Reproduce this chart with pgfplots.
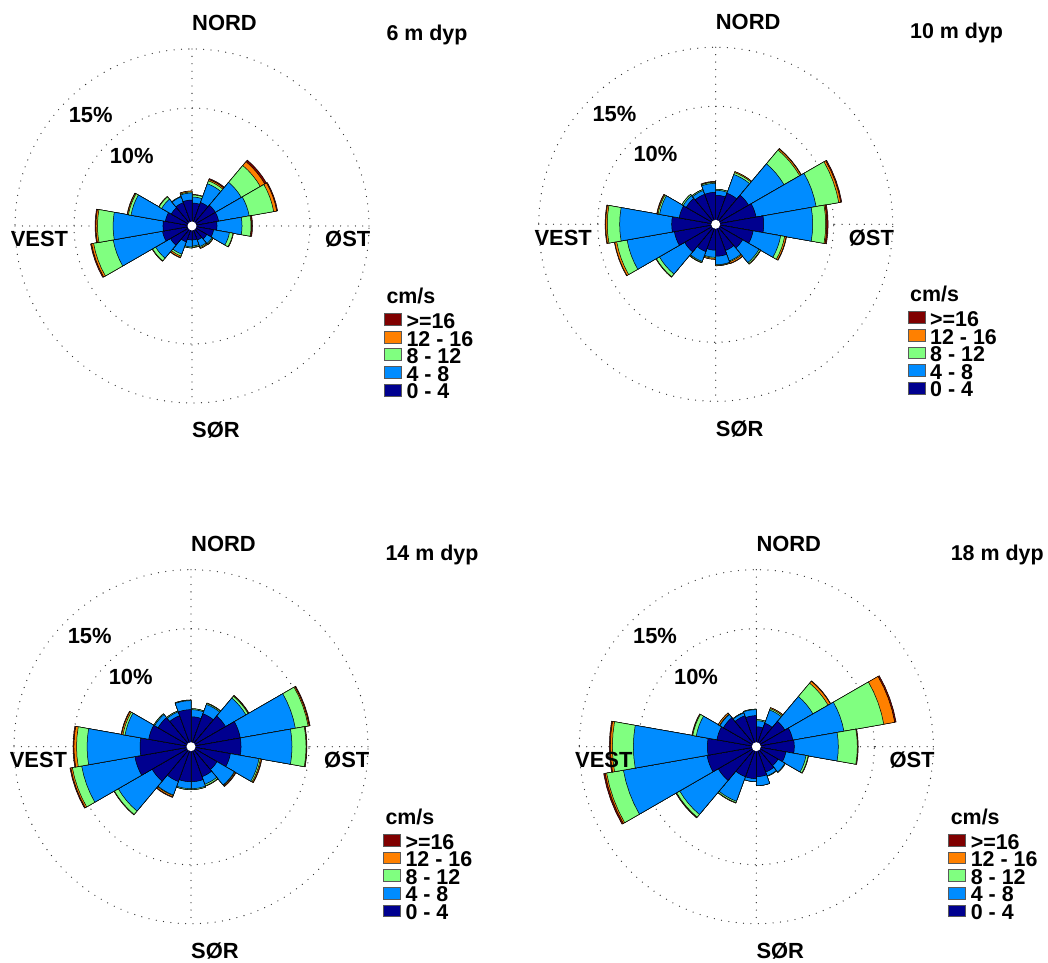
\documentclass[border=0pt]{standalone}
\usepackage{pgfplots}
\pgfplotsset{compat=1.18}
\usepackage{pgfplotstable}
\usepackage{fontspec}
\setmainfont{Liberation Sans}

\definecolor{col1}{RGB}{0,0,143}
\definecolor{col2}{RGB}{0,140,255}
\definecolor{col3}{RGB}{128,255,128}
\definecolor{col4}{RGB}{255,128,0}
\definecolor{col5}{RGB}{128,0,0}

% cumulative percentage (outer edge of each speed class) per 20-degree sector
% dir = compass start of the sector; c1: 0-4, c2: 4-8, c3: 8-12, c4: 12-16, c5: >=16 cm/s
\pgfplotstableread{
dir c1 c2 c3 c4 c5
0 1.95 2.46 2.63 2.67 2.67
20 2.12 3.81 4.07 4.19 4.28
40 2.29 4.83 6.69 7.12 7.29
60 2.29 4.92 7.03 7.29 7.37
80 2.12 4.24 5.00 5.04 5.13
100 1.86 3.22 3.52 3.56 3.56
120 1.44 1.95 2.03 2.08 2.08
140 1.27 1.86 1.95 2.03 2.03
160 1.19 1.69 1.78 1.82 1.82
180 1.19 1.78 1.86 1.86 1.86
200 1.44 2.54 2.71 2.84 2.88
220 2.12 3.56 3.86 3.90 3.90
240 2.54 6.78 8.47 8.64 8.73
260 2.46 6.69 8.01 8.14 8.22
280 2.29 5.25 5.47 5.55 5.59
300 2.03 2.97 3.22 3.26 3.26
320 2.12 2.63 2.67 2.67 2.67
340 2.20 2.80 2.88 2.97 2.97
}\roseA

\pgfplotstableread{
dir c1 c2 c3 c4 c5
0 2.46 2.88 2.97 2.97 2.97
20 2.80 4.49 4.66 4.75 4.75
40 3.22 6.69 8.22 8.35 8.39
60 3.47 8.64 10.59 10.76 10.85
80 4.07 8.22 9.32 9.41 9.53
100 3.22 5.59 5.93 6.06 6.10
120 2.63 4.24 4.36 4.41 4.41
140 2.37 3.31 3.39 3.52 3.56
160 2.71 3.43 3.47 3.52 3.52
180 2.20 2.80 2.88 2.97 2.97
200 2.46 3.35 3.43 3.47 3.47
220 3.05 5.51 5.81 5.85 5.85
240 3.56 7.63 8.52 8.69 8.73
260 3.73 8.14 9.19 9.32 9.38
280 3.14 4.83 4.96 5.04 5.08
300 2.88 3.18 3.31 3.31 3.31
320 2.71 3.05 3.14 3.14 3.14
340 2.71 3.47 3.56 3.60 3.64
}\roseB

\pgfplotstableread{
dir c1 c2 c3 c4 c5
0 2.54 3.14 3.22 3.22 3.22
20 2.97 3.81 3.90 3.94 3.94
40 3.39 5.38 5.59 5.64 5.68
60 4.24 8.98 10.08 10.17 10.25
80 4.24 8.56 9.75 9.79 9.83
100 3.39 5.85 5.97 6.06 6.10
120 2.54 4.24 4.28 4.36 4.41
140 2.71 3.39 3.52 3.56 3.56
160 2.97 3.56 3.64 3.64 3.64
180 2.97 3.56 3.64 3.64 3.64
200 3.14 4.36 4.41 4.53 4.58
220 3.81 7.12 7.50 7.54 7.54
240 4.83 9.41 10.21 10.34 10.42
260 4.32 8.81 9.70 9.92 10.00
280 3.64 5.68 5.85 5.97 6.02
300 3.22 3.56 3.64 3.64 3.64
320 2.80 3.14 3.22 3.22 3.22
340 3.14 3.90 3.94 3.96 3.96
}\roseC

\pgfplotstableread{
dir c1 c2 c3 c4 c5
0 1.69 2.20 2.29 2.29 2.29
20 2.12 3.31 3.43 3.52 3.52
40 2.80 5.55 7.03 7.25 7.29
60 3.14 7.54 10.97 11.91 12.03
80 3.22 6.95 8.56 8.60 8.64
100 2.54 4.28 4.45 4.49 4.49
120 2.12 2.80 2.84 2.84 2.84
140 2.29 2.63 2.67 2.67 2.67
160 2.54 3.31 3.31 3.31 3.31
180 2.71 2.97 2.97 2.97 2.97
200 2.71 4.92 5.04 5.08 5.08
220 3.73 7.50 7.80 7.84 7.88
240 4.24 11.44 12.88 13.01 13.14
260 4.15 10.42 12.20 12.37 12.46
280 3.39 5.17 5.47 5.51 5.55
300 3.22 3.56 3.60 3.73 3.73
320 2.80 3.05 3.09 3.09 3.09
340 2.63 3.14 3.18 3.18 3.18
}\roseD

\pgfplotsset{
  rose/.style={anchor=center, scale only axis, width=401.2bp, height=401.2bp,
    xmin=-17, xmax=17, ymin=-17, ymax=17, hide axis, clip=false},
  wedge/.style={draw=black, line width=0.5bp, line join=round, data cs=polar, mark=none},
}
\tikzset{
  lab/.style={font=\fontsize{22}{26}\selectfont\bfseries, inner sep=0pt},
  ttl/.style={font=\fontsize{21.5}{25}\selectfont\bfseries, inner sep=0pt},
  griddot/.style={line width=1.3bp, dash pattern=on 0pt off 7.4bp, line cap=round, black!80},
  legb/.style={draw=black!65, line width=0.9bp},
}

\newcommand\onewedge[3]{%
  \pgfplotstablegetelem{#2}{dir}\of{#1}\edef\wdir{\pgfplotsretval}%
  \pgfplotstablegetelem{#2}{c#3}\of{#1}\edef\wrad{\pgfplotsretval}%
  \pgfmathsetmacro\aA{90-\wdir}%
  \pgfmathsetmacro\aB{85-\wdir}%
  \pgfmathsetmacro\aC{80-\wdir}%
  \pgfmathsetmacro\aD{75-\wdir}%
  \pgfmathsetmacro\aE{70-\wdir}%
  \edef\temp{\noexpand\addplot[wedge,fill=col#3] coordinates {(0,0) (\aA,\wrad) (\aB,\wrad) (\aC,\wrad) (\aD,\wrad) (\aE,\wrad) (0,0)};}%
  \temp}
\newcommand\drawrose[1]{%
  \foreach \rw in {0,...,17}{%
    \foreach \cls in {5,4,3,2,1}{\onewedge{#1}{\rw}{\cls}}}}

\newcommand\rosegrid{%
  \draw[griddot] (axis cs:0,0) circle[radius=118bp];
  \draw[griddot] (axis cs:0,0) circle[radius=177bp];
  \draw[griddot] ([yshift=177bp]axis cs:0,0) -- ([yshift=-177bp]axis cs:0,0);
  \draw[griddot] ([xshift=-177bp]axis cs:0,0) -- ([xshift=177bp]axis cs:0,0);
}

\newcommand\roseextras[1]{%
  \fill[white] (axis cs:0,0) circle[radius=4.5bp];
  \node[lab,anchor=base west] at ([shift={(0bp,195bp)}]axis cs:0,0) {NORD};
  \node[lab,anchor=base west] at ([shift={(0bp,-212bp)}]axis cs:0,0) {SØR};
  \node[lab,anchor=base east] at ([shift={(-123.7bp,-21bp)}]axis cs:0,0) {VEST};
  \node[lab,anchor=base west] at ([shift={(133bp,-21bp)}]axis cs:0,0) {ØST};
  \node[lab,anchor=base west] at ([shift={(-123.4bp,103bp)}]axis cs:0,0) {15\%};
  \node[lab,anchor=base west] at ([shift={(-82.4bp,62.4bp)}]axis cs:0,0) {10\%};
  \node[ttl,anchor=base west] at ([shift={(194.3bp,185.7bp)}]axis cs:0,0) {#1};
  \node[ttl,anchor=base west] at ([shift={(194.3bp,-77.6bp)}]axis cs:0,0) {cm/s};
  \filldraw[legb,fill=col5] ([shift={(192.6bp,-99.3bp)}]axis cs:0,0) rectangle ++(16.7bp,11.7bp);
  \filldraw[legb,fill=col4] ([shift={(192.6bp,-117.0bp)}]axis cs:0,0) rectangle ++(16.7bp,11.7bp);
  \filldraw[legb,fill=col3] ([shift={(192.6bp,-134.6bp)}]axis cs:0,0) rectangle ++(16.7bp,11.7bp);
  \filldraw[legb,fill=col2] ([shift={(192.6bp,-152.3bp)}]axis cs:0,0) rectangle ++(16.7bp,11.7bp);
  \filldraw[legb,fill=col1] ([shift={(192.6bp,-170.0bp)}]axis cs:0,0) rectangle ++(16.7bp,11.7bp);
  \node[ttl,anchor=base west] at ([shift={(214.3bp,-102.6bp)}]axis cs:0,0) {>=16};
  \node[ttl,anchor=base west] at ([shift={(214.3bp,-120.1bp)}]axis cs:0,0) {12 - 16};
  \node[ttl,anchor=base west] at ([shift={(214.3bp,-137.6bp)}]axis cs:0,0) {8 - 12};
  \node[ttl,anchor=base west] at ([shift={(214.3bp,-155.1bp)}]axis cs:0,0) {4 - 8};
  \node[ttl,anchor=base west] at ([shift={(214.3bp,-172.6bp)}]axis cs:0,0) {0 - 4};
}

\begin{document}
\begin{tikzpicture}[x=1bp,y=1bp]
\useasboundingbox (0,0) rectangle (1048,963);
\begin{axis}[rose, at={(192bp,737bp)}]
  \rosegrid
  \drawrose{\roseA}
  \roseextras{6 m dyp}
\end{axis}
\begin{axis}[rose, at={(715.7bp,738.7bp)}]
  \rosegrid
  \drawrose{\roseB}
  \roseextras{10 m dyp}
\end{axis}
\begin{axis}[rose, at={(191bp,216.3bp)}]
  \rosegrid
  \drawrose{\roseC}
  \roseextras{14 m dyp}
\end{axis}
\begin{axis}[rose, at={(756.3bp,216.3bp)}]
  \rosegrid
  \drawrose{\roseD}
  \roseextras{18 m dyp}
\end{axis}
\end{tikzpicture}
\end{document}
